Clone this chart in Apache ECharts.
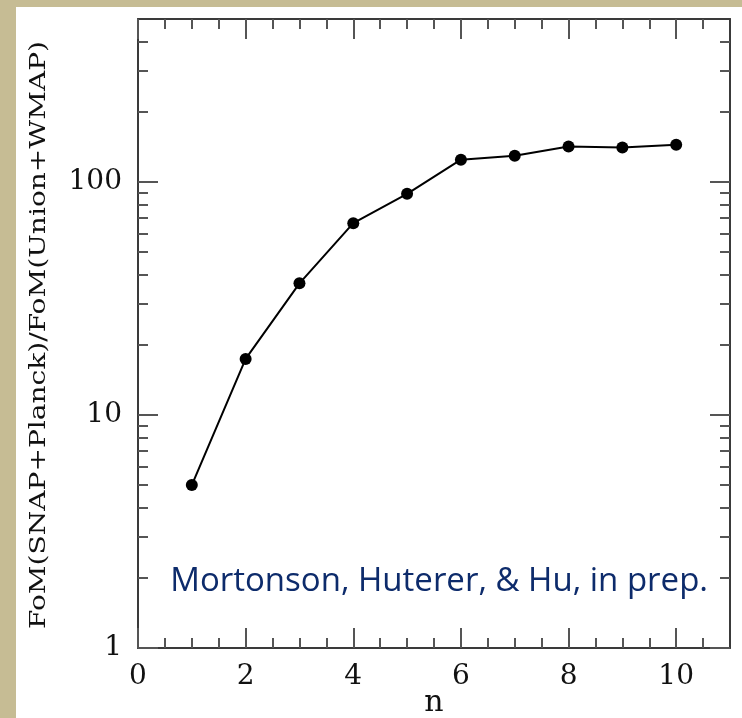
<!DOCTYPE html>
<html>
<head>
<meta charset="utf-8">
<script src="https://cdn.jsdelivr.net/npm/echarts@6/dist/echarts.min.js"></script>
<style>
  html, body { margin: 0; padding: 0; width: 742px; height: 718px; background: #c6bc94; overflow: hidden; }
  #chart { position: absolute; left: 16px; top: 7px; width: 726px; height: 711px; background: #ffffff; }
</style>
</head>
<body>
<div id="chart"></div>
<script>
// ---- data ----
const nValues = [1, 2, 3, 4, 5, 6, 7, 8, 9, 10];
const fomRatio = [5.0, 17.4, 36.7, 66.5, 88.9, 124.5, 129.5, 142.0, 140.6, 144.3];
const xMajorTicks = [0, 2, 4, 6, 8, 10];
const xMinorTicks = [0.5, 1, 1.5, 2.5, 3, 3.5, 4.5, 5, 5.5, 6.5, 7, 7.5, 8.5, 9, 9.5, 10.5];
const yMajorTicks = [1, 10, 100];
const yMinorTicks = [2, 3, 4, 5, 6, 7, 8, 9, 20, 30, 40, 50, 60, 70, 80, 90, 200, 300, 400];
const xName = 'n';
const yName = 'FoM(SNAP+Planck)/FoM(Union+WMAP)';
const noteText = 'Mortonson, Huterer, & Hu, in prep.';

// ---- chart ----
const chart = echarts.init(document.getElementById('chart'), null, { renderer: 'canvas' });
const lineCol = '#3a3a3a';
const tickCol = '#555555';
const serif = '"DejaVu Serif", serif';

function xAx(pos, ticks, len, main) {
  return {
    type: 'value', position: pos, min: 0, max: 11,
    axisLine: { show: main, onZero: false, lineStyle: { color: lineCol, width: 2 } },
    axisTick: { show: true, inside: true, length: len, customValues: ticks, lineStyle: { color: tickCol, width: 2 } },
    axisLabel: (main && pos === 'bottom') ? {
      show: true, customValues: xMajorTicks, margin: 15,
      fontFamily: serif, fontSize: 28, color: '#111'
    } : { show: false },
    splitLine: { show: false },
    name: (main && pos === 'bottom') ? xName : '',
    nameLocation: 'middle', nameGap: 40, nameMoveOverlap: false,
    nameTextStyle: { fontFamily: serif, fontSize: 30, color: '#111' }
  };
}
function yAx(pos, ticks, len, main) {
  return {
    type: 'log', position: pos, min: 1, max: 500, logBase: 10,
    axisLine: { show: main, onZero: false, lineStyle: { color: lineCol, width: 2 } },
    axisTick: { show: true, inside: true, length: len, customValues: ticks, lineStyle: { color: tickCol, width: 2 } },
    axisLabel: (main && pos === 'left') ? {
      show: true, customValues: yMajorTicks, margin: 16,
      fontFamily: serif, fontSize: 28, color: '#111'
    } : { show: false },
    splitLine: { show: false },
    minorTick: { show: false }
  };
}

chart.setOption({
  animation: false,
  backgroundColor: '#ffffff',
  grid: { left: 122, top: 12, right: 12, bottom: 70, containLabel: false, outerBoundsMode: 'none' },
  xAxis: [
    xAx('bottom', xMajorTicks, 20, true),
    xAx('bottom', xMinorTicks, 10, false),
    xAx('top', xMajorTicks, 20, true),
    xAx('top', xMinorTicks, 10, false)
  ],
  yAxis: [
    yAx('left', yMajorTicks, 20, true),
    yAx('left', yMinorTicks, 10, false),
    yAx('right', yMajorTicks, 20, true),
    yAx('right', yMinorTicks, 10, false)
  ],
  series: [{
    type: 'line',
    xAxisIndex: 0, yAxisIndex: 0,
    data: nValues.map((n, i) => [n, fomRatio[i]]),
    symbol: 'circle', symbolSize: 12,
    itemStyle: { color: '#000' },
    lineStyle: { color: '#000', width: 2 },
    z: 5
  }],
  graphic: [
    {
      type: 'text',
      x: 23, y: 328,
      rotation: Math.PI / 2,
      scaleX: 1.22,
      style: {
        text: yName, font: '23px "DejaVu Serif", serif', fill: '#111',
        align: 'center', verticalAlign: 'middle'
      }
    },
    {
      type: 'text',
      x: 692, y: 575,
      style: {
        text: noteText, font: '33px "Open Sans", "Noto Sans", sans-serif', fill: '#0d2b6b',
        align: 'right', verticalAlign: 'middle'
      }
    }
  ]
});
</script>
</body>
</html>
